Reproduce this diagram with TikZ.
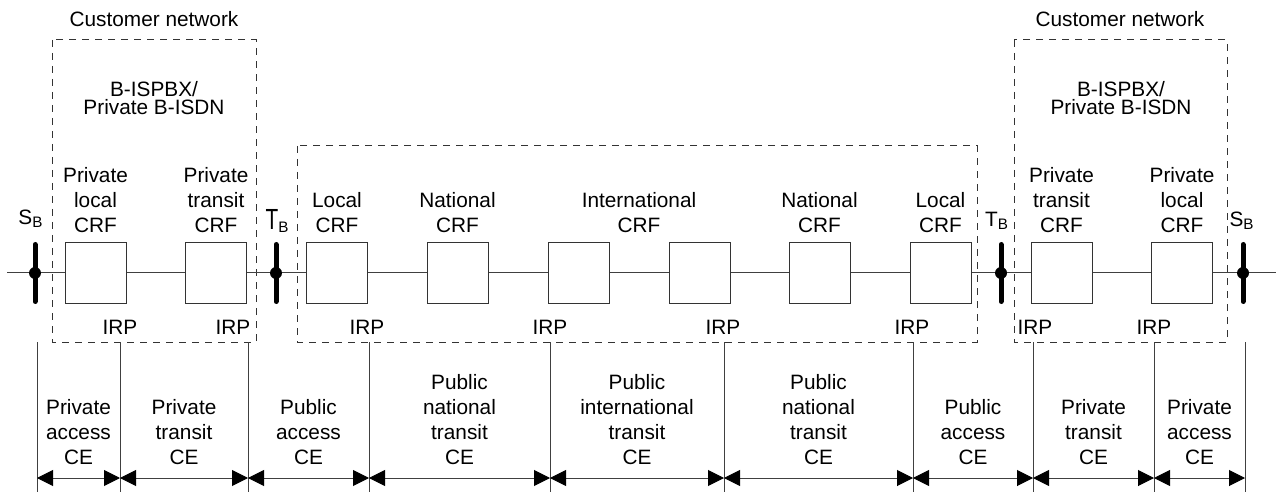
\documentclass[tikz,border=0pt]{standalone}
\usepackage{fontspec}
\usepackage{graphicx}
\setmainfont{Liberation Sans}
\usetikzlibrary{arrows.meta}
\newcommand\subB{\raisebox{-1.5pt}{\fontsize{7.6}{8}\selectfont B}}
\begin{document}
\begin{tikzpicture}[x=0.5pt,y=-0.5pt,
  every node/.style={font=\fontsize{10.4}{12.5}\selectfont},
  crf/.style={draw=black!80, fill=white, line width=0.5pt, minimum width=30.5pt, minimum height=30pt, inner sep=0pt},
  lbl/.style={align=center, anchor=south, inner sep=0pt, text depth=0pt},
  wire/.style={draw=black!75, line width=0.5pt},
  dashbox/.style={draw=black!80, line width=0.5pt, dash pattern=on 3.5pt off 3pt},
  dot/.style={circle, fill=black, minimum size=6pt, inner sep=0pt},
  bar/.style={line width=2.5pt, line cap=round},
  ce/.style={{Triangle[length=8pt,width=8pt,color=black]}-{Triangle[length=8pt,width=8pt,color=black]}, line width=0.5pt, draw=black!75},
  refpt/.style={anchor=base, inner sep=0pt}
]
\useasboundingbox (0,0) rectangle (1276,492);

% dashed enclosures
\draw[dashbox] (52,40) rectangle (256,342);
\draw[dashbox] (297,146) rectangle (977,342);
\draw[dashbox] (1014,40) rectangle (1227,342);

% enclosure titles
\node[refpt] (cn1) at (154,27) {Customer network};
\node[refpt] (cn2) at (1120,27) {Customer network};
\node[lbl, font=\fontsize{10.4}{9.2}\selectfont] (pbx1) at (154,115) {B-ISPBX/\\Private B-ISDN};
\node[lbl, font=\fontsize{10.4}{9.2}\selectfont] (pbx2) at (1121,115) {B-ISPBX/\\Private B-ISDN};

% line end points
\coordinate (lstart) at (7,273);
\coordinate (lend) at (1276,273);

% CRF boxes
\node[crf] (b1) at (95.5,273) {};
\node[crf] (b2) at (216,273) {};
\node[crf] (b3) at (337,273) {};
\node[crf] (b4) at (457.5,273) {};
\node[crf] (b5) at (578.5,273) {};
\node[crf] (b6) at (699.5,273) {};
\node[crf] (b7) at (819.5,273) {};
\node[crf] (b8) at (940.5,273) {};
\node[crf] (b9) at (1061.5,273) {};
\node[crf] (b10) at (1182,273) {};

% reference point dots
\node[dot] (sb1) at (35,273) {};
\node[dot] (tb1) at (276,273) {};
\node[dot] (tb2) at (1001,273) {};
\node[dot] (sb2) at (1243,273) {};

% main line
\draw[wire] (lstart) -- (sb1) -- (b1) -- (b2) -- (tb1) -- (b3) -- (b4) -- (b5) -- (b6) -- (b7) -- (b8) -- (tb2) -- (b9) -- (b10) -- (sb2) -- (lend);

% bars
\foreach \p in {sb1,tb1,tb2,sb2}{
  \draw[bar] ([yshift=14.25pt]\p.center) -- ([yshift=-14.25pt]\p.center);
}

% reference point labels
\node[refpt] (sbl1) at (30.5,225) {S\subB};
\node[refpt] (tbl1) at (277,230) {\scalebox{1}[1.4]{T}\subB};
\node[refpt] (tbl2) at (996.5,227) {T\subB};
\node[refpt] (sbl2) at (1241.5,227) {S\subB};

% CRF labels
\node[lbl] (l1) at (95.5,233) {Private\\local\\CRF};
\node[lbl] (l2) at (216,233) {Private\\transit\\CRF};
\node[lbl] (l3) at (337,233) {Local\\CRF};
\node[lbl] (l4) at (457.5,233) {National\\CRF};
\node[lbl] (l5) at (639,233) {International\\CRF};
\node[lbl] (l6) at (819.5,233) {National\\CRF};
\node[lbl] (l7) at (940.5,233) {Local\\CRF};
\node[lbl] (l8) at (1061.5,233) {Private\\transit\\CRF};
\node[lbl] (l9) at (1182,233) {Private\\local\\CRF};

% IRP labels
\foreach \x [count=\i] in {120,233,367,550,723,912,1035,1154}{
  \node[refpt] (irp\i) at (\x,335) {IRP};
}

% vertical boundaries and CE arrows
\foreach \x [count=\i from 0] in {37,120,248,369,550,724,913,1033,1154,1245}{
  \coordinate (vt\i) at (\x,342);
  \coordinate (vb\i) at (\x,492);
  \coordinate (a\i) at (\x,478);
  \draw[wire] (vt\i) -- (vb\i);
}
\foreach \i [evaluate=\i as \j using int(\i+1)] in {0,...,8}{
  \draw[ce] (a\i) -- (a\j);
}

% CE labels
\node[lbl] (c1) at (78.5,465) {Private\\access\\CE};
\node[lbl] (c2) at (184,465) {Private\\transit\\CE};
\node[lbl] (c3) at (308.5,465) {Public\\access\\CE};
\node[lbl] (c4) at (459.5,465) {Public\\national\\transit\\CE};
\node[lbl] (c5) at (637,465) {Public\\international\\transit\\CE};
\node[lbl] (c6) at (818.5,465) {Public\\national\\transit\\CE};
\node[lbl] (c7) at (973,465) {Public\\access\\CE};
\node[lbl] (c8) at (1093.5,465) {Private\\transit\\CE};
\node[lbl] (c9) at (1199.5,465) {Private\\access\\CE};
\end{tikzpicture}
\end{document}
